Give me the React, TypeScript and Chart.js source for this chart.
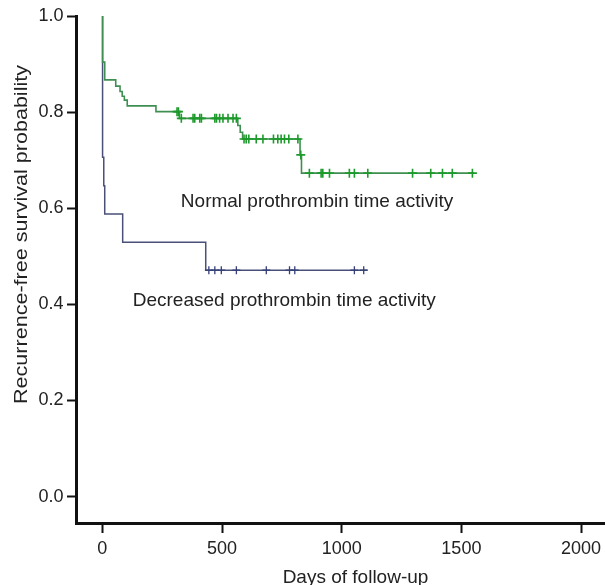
import React, { useEffect, useRef } from "react";
import { Chart, registerables } from "chart.js";

Chart.register(...registerables);

// ---------- data ----------
const xTickValues = [0, 500, 1000, 1500, 2000];
const yTickValues = [0, 0.2, 0.4, 0.6, 0.8, 1.0];

// Normal prothrombin time activity (Kaplan-Meier steps)
const normalEventDays = [0, 1, 10, 56, 74, 83, 92, 104, 224, 322, 566, 576, 586, 826, 832];
const normalSurvival = [1.0, 0.904, 0.867, 0.854, 0.843, 0.833, 0.825, 0.813, 0.801, 0.787, 0.772, 0.758, 0.744, 0.711, 0.673];
const normalCensorDays = [
  312, 318, 330, 379, 386, 407, 414, 470, 477, 490, 504, 525, 546, 560,
  592, 601, 612, 643, 671, 715, 733, 747, 761, 779, 817, 829,
  865, 914, 921, 949, 1032, 1053, 1109, 1296, 1372, 1421, 1462, 1546,
];
const normalLastDay = 1553;

// Decreased prothrombin time activity
const decreasedEventDays = [0, 1, 6, 10, 85, 432];
const decreasedSurvival = [1.0, 0.706, 0.647, 0.588, 0.529, 0.471];
const decreasedCensorDays = [445, 470, 497, 560, 685, 782, 804, 1053, 1092];
const decreasedLastDay = 1108;

const labelNormal = "Normal prothrombin time activity";
const labelDecreased = "Decreased prothrombin time activity";
const xTitle = "Days of follow-up";
const yTitle = "Recurrence-free survival probability";

// ---------- helpers ----------
function survivalAt(days: number[], surv: number[], t: number): number {
  let s = surv[0];
  for (let i = 0; i < days.length; i++) {
    if (days[i] <= t) s = surv[i];
  }
  return s;
}

function stepPoints(days: number[], surv: number[], last: number) {
  const pts = days.map((d, i) => ({ x: d, y: surv[i] }));
  pts.push({ x: last, y: surv[surv.length - 1] });
  return pts;
}

const FONT = '"Liberation Sans", Arial, Helvetica, sans-serif';
const TEXT_COLOR = "#222222";
const GREEN_LINE = "#3f8f52";
const GREEN_MARK = "#1e9a2c";
const BLUE_LINE = "#4a5078";
const BLUE_MARK = "#35407a";

const textPlugin = {
  id: "kmTexts",
  afterDraw(chart: any) {
    const ctx = chart.ctx as CanvasRenderingContext2D;
    const xs = chart.scales.x;
    const ys = chart.scales.y;
    ctx.save();
    ctx.fillStyle = TEXT_COLOR;
    ctx.font = `19px ${FONT}`;
    ctx.textBaseline = "alphabetic";
    ctx.textAlign = "left";
    // curve labels
    ctx.fillText(labelNormal, xs.getPixelForValue(328), ys.getPixelForValue(0.602));
    ctx.fillText(labelDecreased, xs.getPixelForValue(127), ys.getPixelForValue(0.397));
    // x title
    ctx.textAlign = "center";
    ctx.fillText(xTitle, 355.5, 582.5);
    // y title (runs from just below the 0.2 tick up to midway between 0.8 and 1.0)
    const yStart = 404;
    const yEnd = 65;
    const w = ctx.measureText(yTitle).width;
    ctx.translate(27, yStart);
    ctx.rotate(-Math.PI / 2);
    ctx.scale((yStart - yEnd) / w, 1);
    ctx.textAlign = "left";
    ctx.fillText(yTitle, 0, 0);
    ctx.restore();
  },
};

export default function App() {
  const canvasRef = useRef<HTMLCanvasElement | null>(null);

  useEffect(() => {
    const canvas = canvasRef.current;
    if (!canvas) return;

    const normalMarks = normalCensorDays.map((d) => ({
      x: d,
      y: survivalAt(normalEventDays, normalSurvival, d),
    }));
    const decreasedMarks = decreasedCensorDays.map((d) => ({
      x: d,
      y: survivalAt(decreasedEventDays, decreasedSurvival, d),
    }));

    const chart = new Chart(canvas, {
      type: "line",
      data: {
        datasets: [
          {
            label: "Normal censored",
            data: normalMarks,
            showLine: false,
            pointStyle: "cross",
            pointRadius: 4.5,
            borderColor: GREEN_MARK,
            backgroundColor: GREEN_MARK,
            pointBorderWidth: 1.6,
            order: 0,
          },
          {
            label: "Normal",
            data: stepPoints(normalEventDays, normalSurvival, normalLastDay),
            stepped: "before",
            borderColor: GREEN_LINE,
            borderWidth: 1.6,
            pointRadius: 0,
            fill: false,
            order: 1,
          },
          {
            label: "Decreased censored",
            data: decreasedMarks,
            showLine: false,
            pointStyle: "cross",
            pointRadius: 4,
            borderColor: BLUE_MARK,
            backgroundColor: BLUE_MARK,
            pointBorderWidth: 1.3,
            order: 2,
          },
          {
            label: "Decreased",
            data: stepPoints(decreasedEventDays, decreasedSurvival, decreasedLastDay),
            stepped: "before",
            borderColor: BLUE_LINE,
            borderWidth: 1.5,
            pointRadius: 0,
            fill: false,
            order: 3,
          },
        ],
      },
      options: {
        animation: false,
        responsive: false,
        maintainAspectRatio: false,
        layout: { autoPadding: false, padding: { top: 16, right: 0, left: 0, bottom: 0 } },
        plugins: {
          legend: { display: false },
          tooltip: { enabled: false },
          title: { display: false },
        },
        scales: {
          x: {
            type: "linear",
            min: -110,
            max: 2100,
            afterBuildTicks: (scale: any) => {
              scale.ticks = xTickValues.map((v) => ({ value: v }));
            },
            afterFit: (scale: any) => {
              scale.height = 62;
              scale.paddingLeft = 0;
              scale.paddingRight = 0;
            },
            grid: {
              display: true,
              drawOnChartArea: false,
              drawTicks: true,
              tickLength: 10,
              tickColor: "#111111",
              tickWidth: 2,
            },
            border: { display: true, color: "#111111", width: 3 },
            ticks: {
              color: TEXT_COLOR,
              font: { family: FONT, size: 18 },
              padding: 5,
              maxRotation: 0,
              autoSkip: false,
              callback: (v: any) => String(v),
            },
          },
          y: {
            type: "linear",
            min: -0.055,
            max: 1.0,
            afterBuildTicks: (scale: any) => {
              scale.ticks = yTickValues.map((v) => ({ value: v }));
            },
            afterFit: (scale: any) => {
              scale.width = 76;
              scale.paddingTop = 0;
              scale.paddingBottom = 0;
            },
            grid: {
              display: true,
              drawOnChartArea: false,
              drawTicks: true,
              tickLength: 9,
              tickColor: "#111111",
              tickWidth: 2,
            },
            border: { display: true, color: "#111111", width: 3 },
            ticks: {
              color: TEXT_COLOR,
              font: { family: FONT, size: 18 },
              padding: 3.5,
              autoSkip: false,
              callback: (v: any) => Number(v).toFixed(1),
            },
          },
        },
      },
      plugins: [textPlugin],
    });

    return () => chart.destroy();
  }, []);

  return (
    <div style={{ position: "absolute", left: 0, top: 0, width: 605, height: 585, background: "#ffffff" }}>
      <canvas ref={canvasRef} width={605} height={585} style={{ display: "block", width: 605, height: 585 }} />
    </div>
  );
}
